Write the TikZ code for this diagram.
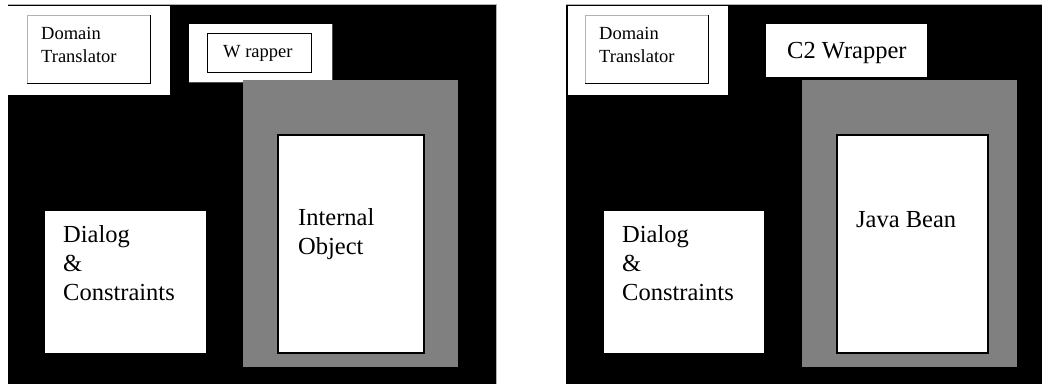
\documentclass[tikz,border=0pt]{standalone}
\usepackage{fontspec}
\setmainfont{Liberation Serif}
\tikzset{
  big/.style={inner sep=0pt, anchor=base west, font=\fontsize{24.5}{29}\selectfont},
  small/.style={inner sep=0pt, anchor=base west, font=\fontsize{18.5}{23}\selectfont},
  panelbg/.style={fill=black},
  edge/.style={draw=gray!60, line width=0.8pt},
  whitebg/.style={fill=white},
  greybg/.style={fill=black!50},
  lightline/.style={draw=gray!60, line width=0.6pt},
  darkline/.style={draw=black, line width=0.9pt},
}
\begin{document}
\begin{tikzpicture}[x=1pt,y=-1pt]
\useasboundingbox (0,0) rectangle (1042,384);
% ---------- left panel ----------
\fill[panelbg] (8,4) rectangle (496,384);
\path[edge] (8,4.4) -- (496,4.4) -- (496,384);
% domain translator
\fill[whitebg] (8,6) rectangle (170,95);
\path[lightline] (27,83) -- (27,15) -- (150,15);
\path[darkline] (150,15) -- (150,83) -- (27,83);
% wrapper
\fill[whitebg] (189,24) rectangle (332,82);
\draw[black!70, line width=0.8pt] (332,24) -- (332,82) -- (189,82);
\path[darkline] (207,33) rectangle (311,72);
% grey frame and internal object
\fill[greybg] (243,80) rectangle (458,367);
\filldraw[fill=white, draw=black, line width=1.2pt] (278,135) rectangle (424,353);
% dialog
\fill[whitebg] (45,211) rectangle (206,353);
% texts
\node[small] (ld1) at (41,39) {Domain};
\node[small] (ld2) at (41,62) {Translator};
\node[small] (lw) at (223,57) {W rapper};
\node[big] (li1) at (298,225) {Internal};
\node[big] (li2) at (298,254) {Object};
\node[big] (lc1) at (63,242) {Dialog};
\node[big] (lc2) at (63,271) {\&};
\node[big] (lc3) at (63,300) {Constraints};
% ---------- right panel ----------
\fill[panelbg] (566,4) rectangle (1042,384);
\path[edge] (566,4.4) -- (1042,4.4);
\fill[whitebg] (568,6) rectangle (728,95);
\path[lightline] (585,83) -- (585,15) -- (708,15);
\path[darkline] (708,15) -- (708,83) -- (585,83);
\fill[whitebg] (766,24) rectangle (927,77);
\fill[greybg] (802,80) rectangle (1017,367);
\filldraw[fill=white, draw=black, line width=1.2pt] (837,135) rectangle (988,353);
\fill[whitebg] (604,211) rectangle (764,353);
\node[small] (rd1) at (599,39) {Domain};
\node[small] (rd2) at (599,62) {Translator};
\node[big] (rw) at (787,58) {C2 Wrapper};
\node[big] (rj) at (856,227) {Java Bean};
\node[big] (rc1) at (622,242) {Dialog};
\node[big] (rc2) at (622,271) {\&};
\node[big] (rc3) at (622,300) {Constraints};
\end{tikzpicture}
\end{document}
